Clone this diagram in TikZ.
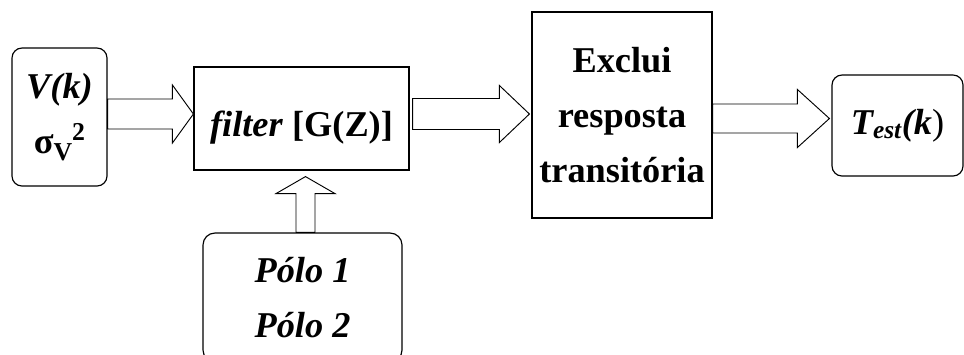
\documentclass[tikz,border=0pt]{standalone}
\usepackage{fontspec}
\setmainfont{Liberation Serif}
\usetikzlibrary{calc}

% block arrow pointing right: start, tip, shaft half width, head half width, head length
\newcommand{\fatright}[5]{%
  \draw[fat] let \p1=(#1), \p2=(#2) in
    (\x1,{\y1+#3}) -- ({\x2-#5},{\y1+#3}) -- ({\x2-#5},{\y1+#4}) -- (\x2,\y1)
    -- ({\x2-#5},{\y1-#4}) -- ({\x2-#5},{\y1-#3}) -- (\x1,{\y1-#3}) -- cycle;}
% block arrow pointing up
\newcommand{\fatup}[5]{%
  \draw[fat] let \p1=(#1), \p2=(#2) in
    ({\x1-#3},\y1) -- ({\x1-#3},{\y2-#5}) -- ({\x1-#4},{\y2-#5}) -- (\x1,\y2)
    -- ({\x1+#4},{\y2-#5}) -- ({\x1+#3},{\y2-#5}) -- ({\x1+#3},\y1) -- cycle;}

\begin{document}
\begin{tikzpicture}[
    x=0.03cm, y=-0.03cm,
    every node/.style={font=\fontsize{31}{47}\selectfont\bfseries},
    blk/.style={rectangle, draw, line width=1pt, align=center, inner sep=0pt},
    rblk/.style={blk, rounded corners=0.3cm},
    fat/.style={draw, line width=0.8pt, fill=white}
]
\useasboundingbox (0,0) rectangle (964,354);

% boxes
\node[rblk, minimum width=2.85cm, minimum height=4.14cm] (src) at (59.5,117)
  {\itshape V(k)\\σ\raisebox{-0.45ex}{\fontsize{22}{22}\selectfont V}\raisebox{0.75ex}{\fontsize{22}{22}\selectfont 2}};
\node[blk, minimum width=6.45cm, minimum height=3.09cm, text height=1.1cm, text depth=0pt] (filt) at (301.5,118.5)
  {\textit{filter} [G(Z)]};
\node[blk, minimum width=5.4cm, minimum height=6.18cm] (excl) at (622,115)
  {Exclui\\resposta\\transitória};
\node[rblk, minimum width=3.93cm, minimum height=3.03cm] (test) at (897.5,125.5)
  {\textit{T\textsubscript{est}(k}\mdseries)};
\node[rblk, rounded corners=0.36cm, minimum width=5.97cm, minimum height=3.87cm] (polo) at (302.5,297.5)
  {\itshape Pólo 1\\\itshape Pólo 2};

% block arrows
\fatright{$(src.east)+(0,-3)$}{filt.west}{0.45cm}{0.87cm}{0.63cm}
\fatright{$(filt.east)+(3,-4.5)$}{$(excl.west)+(-2,0)$}{0.465cm}{0.855cm}{0.9cm}
\fatright{$(excl.east)+(0,3.5)$}{$(test.west)+(-2,0)$}{0.435cm}{0.87cm}{0.96cm}
\fatup{$(polo.north)+(3,0)$}{$(filt.south)+(3,6)$}{0.285cm}{0.885cm}{0.51cm}

\end{tikzpicture}
\end{document}
